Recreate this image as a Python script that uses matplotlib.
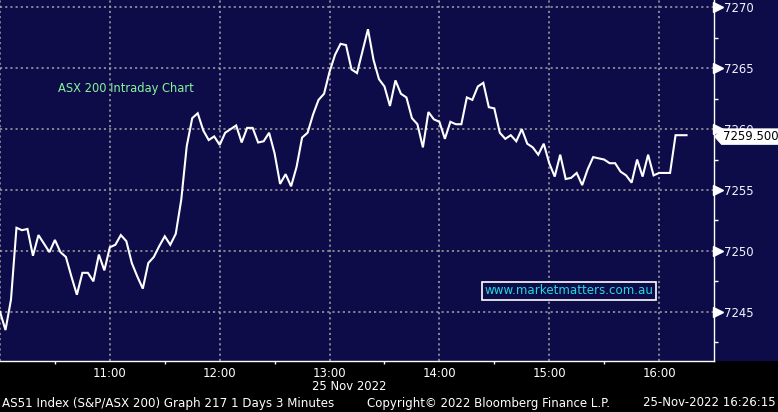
import numpy as np
import pandas as pd
import matplotlib
matplotlib.use("Agg")
import matplotlib.pyplot as plt
import matplotlib.transforms as mtransforms
from matplotlib.path import Path

# ---------------- data ----------------
start_time = "2022-11-25 10:00"
interval_minutes = 3
prices = [
    7245.0, 7243.5, 7246.0, 7251.9, 7251.7, 7251.8, 7249.6, 7251.3, 7250.6, 7249.9,
    7250.9, 7249.9, 7249.5, 7247.9, 7246.4, 7248.2, 7248.2, 7247.5, 7249.7, 7248.4,
    7250.3, 7250.5, 7251.3, 7250.8, 7249.0, 7247.9, 7246.9, 7249.0, 7249.5, 7250.4,
    7251.2, 7250.5, 7251.4, 7254.2, 7258.6, 7260.9, 7261.3, 7259.9, 7259.1, 7259.4,
    7258.7, 7259.7, 7260.0, 7260.3, 7258.9, 7260.1, 7260.1, 7258.9, 7259.0, 7259.7,
    7258.0, 7255.5, 7256.3, 7255.3, 7256.9, 7259.3, 7259.7, 7261.2, 7262.4, 7262.9,
    7264.7, 7266.1, 7267.0, 7266.9, 7264.9, 7264.6, 7266.4, 7268.2, 7265.7, 7264.1,
    7263.5, 7261.9, 7264.0, 7262.9, 7262.6, 7260.9, 7260.4, 7258.5, 7261.4, 7260.8,
    7260.6, 7259.2, 7260.6, 7260.4, 7260.4, 7262.6, 7262.4, 7263.5, 7263.8, 7261.8,
    7261.7, 7259.7, 7259.2, 7259.5, 7259.0, 7260.0, 7258.8, 7258.5, 7257.9, 7258.8,
    7257.2, 7256.1, 7257.9, 7255.9, 7256.0, 7256.4, 7255.4, 7256.7, 7257.7, 7257.6,
    7257.5, 7257.2, 7257.2, 7256.5, 7256.2, 7255.6, 7257.5, 7256.1, 7257.9, 7256.2,
    7256.4, 7256.4, 7256.4, 7259.5, 7259.5, 7259.5,
]
y_ticks = [7245, 7250, 7255, 7260, 7265, 7270]
y_minor_ticks = [7242.5, 7247.5, 7252.5, 7257.5, 7262.5, 7267.5]
y_range = (7240.96, 7270.6)
session_start = "2022-11-25 10:00"
session_end = "2022-11-25 16:30"
x_tick_labels = ["11:00", "12:00", "13:00", "14:00", "15:00", "16:00"]
last_label = "7259.500"
title_text = "ASX 200 Intraday Chart"
watermark = "www.marketmatters.com.au"
date_label = "25 Nov 2022"
footer_left = "AS51 Index (S&P/ASX 200) Graph 217 1 Days 3 Minutes"
footer_mid = "Copyright\u00a9 2022 Bloomberg Finance L.P."
footer_right = "25-Nov-2022 16:26:15"

# ---------------- style ----------------
W, H, DPI = 778, 412, 100
NAVY = "#0e0c48"
GRID = "#a4a4a4"
FONT = "DejaVu Sans"

times = pd.date_range(start_time, periods=len(prices), freq=f"{interval_minutes}min")
hours = pd.date_range(session_start, "2022-11-25 16:00", freq="60min")
half_hours = pd.date_range("2022-11-25 10:30", "2022-11-25 16:00", freq="60min")

fig = plt.figure(figsize=(W / DPI, H / DPI), dpi=DPI, facecolor="black")

def fx(px):
    return px / W

def fy(py):
    return 1 - py / H

ax_bottom_px = 361
ax_right_px = 714
# navy backdrop for the plot band (including the right label area)
fig.patches.append(plt.Rectangle((0, fy(ax_bottom_px)), 1, 1 - fy(ax_bottom_px),
                                 transform=fig.transFigure, facecolor=NAVY,
                                 edgecolor="none", zorder=-5))

ax = fig.add_axes([0, fy(ax_bottom_px), fx(ax_right_px), 1 - fy(ax_bottom_px)])
ax.set_facecolor(NAVY)

ax.plot(times, prices, color="white", lw=1.5, zorder=5, solid_joinstyle="miter")

ax.set_xlim(pd.Timestamp(session_start), pd.Timestamp(session_end))
ax.set_ylim(*y_range)

# grid
for v in y_ticks:
    ax.axhline(v, color=GRID, lw=1.1, ls=(0, (1.4, 2.0)), zorder=1)
for h in hours:
    ax.axvline(h, color=GRID, lw=1.1, ls=(0, (1.4, 2.0)), zorder=1)

# spines
for s in ["top", "left"]:
    ax.spines[s].set_visible(False)
for s in ["bottom", "right"]:
    ax.spines[s].set_color("white")
    ax.spines[s].set_linewidth(1.0)

# x ticks
ax.set_xticks(hours[1:])
ax.set_xticklabels(x_tick_labels)
ax.set_xticks(half_hours, minor=True)
ax.tick_params(axis="x", which="major", length=0, pad=4.5, labelsize=8.4,
               labelcolor="white")
ax.tick_params(axis="x", which="minor", length=2.5, width=1, color="white",
               direction="out")

# y ticks on right
ax.yaxis.tick_right()
ax.set_yticks(y_ticks)
ax.set_yticklabels([str(v) for v in y_ticks])
ax.set_yticks(y_minor_ticks, minor=True)
ax.tick_params(axis="y", which="major", length=0, pad=7.2, labelsize=8.4,
               labelcolor="#f4f4ff")
ax.tick_params(axis="y", which="minor", length=3, width=1, color="white",
               direction="out")
for lab in ax.get_xticklabels() + ax.get_yticklabels():
    lab.set_fontfamily(FONT)

# triangle flags for major y ticks
flag_tr = mtransforms.blended_transform_factory(ax.transAxes, ax.transData) + \
    mtransforms.ScaledTranslation(4.0 / DPI, 0, fig.dpi_scale_trans)
ax.plot([1.0] * len(y_ticks), y_ticks, ls="none", marker=">", ms=6.5,
        color="white", mec="white", transform=flag_tr, clip_on=False, zorder=6)


# pentagon "price tag" box style
def tag_box(x0, y0, width, height, mutation_size):
    pad = 0.12 * mutation_size
    x0, y0 = x0 - pad, y0 - pad
    x1, y1 = x0 + width + 2 * pad, y0 + height + 2 * pad
    h = y1 - y0
    tip = x0 - 0.45 * h
    ym = (y0 + y1) / 2
    return Path([(tip, ym), (x0, y1), (x1 + 20, y1), (x1 + 20, y0), (x0, y0), (tip, ym)],
                closed=True)


# last value tag
tag_tr = mtransforms.blended_transform_factory(ax.transAxes, ax.transData) + \
    mtransforms.ScaledTranslation(9.0 / DPI, -1.5 / DPI, fig.dpi_scale_trans)
ax.text(1.0, prices[-1], last_label, transform=tag_tr, ha="left", va="center",
        fontsize=8.4, family=FONT, color="black", clip_on=False, zorder=20,
        bbox=dict(boxstyle=tag_box, fc="white", ec="white", lw=0.5))

# title text
fig.text(fx(58), fy(88.5), title_text, ha="left", va="center", fontsize=8.3,
         family=FONT, color="#84f49a")

# watermark box
fig.text(fx(569), fy(291), watermark, ha="center", va="center", fontsize=8.6,
         family=FONT, color="#22d8e2",
         bbox=dict(boxstyle="square,pad=0.22", fc=NAVY, ec="white", lw=1.2))

# bottom texts
fig.text(fx(312), fy(387), date_label, ha="left", va="center", fontsize=8.4,
         family=FONT, color="white")
fig.text(fx(2), fy(403), footer_left, ha="left", va="center", fontsize=8.6,
         family=FONT, color="white")
fig.text(fx(367), fy(403), footer_mid, ha="left", va="center", fontsize=8.45,
         family=FONT, color="white")
fig.text(fx(776), fy(403), footer_right, ha="right", va="center", fontsize=8.5,
         family=FONT, color="white")

fig.savefig("out.png", dpi=DPI, facecolor=fig.get_facecolor())
